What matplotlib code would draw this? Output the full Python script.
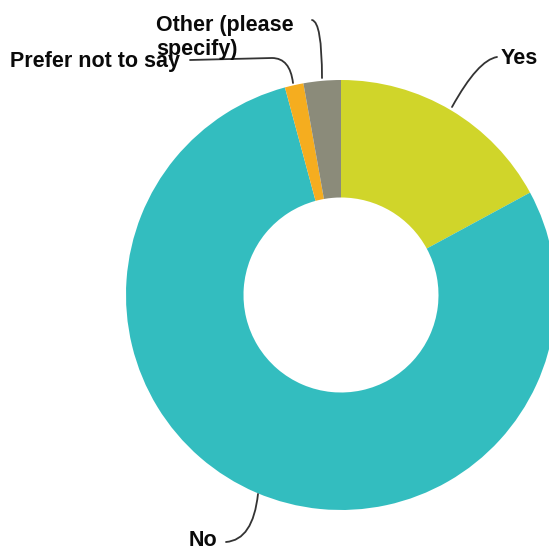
import matplotlib
matplotlib.use("Agg")
import matplotlib.pyplot as plt
from matplotlib.path import Path
from matplotlib.patches import PathPatch

categories = ["Yes", "No", "Prefer not to say", "Other (please\nspecify)"]
values = [17.1, 78.7, 1.4, 2.8]
colors = ["#D0D52A", "#33BDBF", "#F5AD1F", "#8B8B7A"]

W, H = 549, 551
fig = plt.figure(figsize=(W / 100, H / 100), dpi=100)
ax = fig.add_axes([0, 0, 1, 1])

def Y(py):
    return H - py

cx, cy, R, r = 341, 295, 215, 97.5
ax.pie(values, colors=colors, startangle=90, counterclock=False,
       center=(cx, Y(cy)), radius=R, frame=True,
       wedgeprops=dict(width=R - r, linewidth=0))
ax.set_xlim(0, W)
ax.set_ylim(0, H)
ax.set_aspect("equal")
ax.axis("off")

font = dict(family="Liberation Sans", fontweight="bold", fontsize=15.5, color="#0a0a0a")

def curve(pts):
    verts = [(x, Y(y)) for x, y in pts]
    codes = [Path.MOVETO] + [Path.CURVE3] * (len(verts) - 1)
    ax.add_patch(PathPatch(Path(verts, codes), fill=False, lw=1.3,
                           edgecolor="#333333", capstyle="round", zorder=1))

# leader lines
curve([(452, 107), (478, 60), (497, 57)])
curve([(258, 494), (253, 540), (226, 542)])
curve([(322, 78), (322, 22), (312, 20)])
curve([(293, 83), (290, 58), (272, 58), (231, 59), (190, 60)])

ax.text(501, Y(64), categories[0], ha="left", va="baseline", **font)
ax.text(189, Y(546), categories[1], ha="left", va="baseline", **font)
ax.text(10, Y(67), categories[2], ha="left", va="baseline", zorder=3, **font)
lines = categories[3].split("\n")
ax.text(156, Y(31), lines[0], ha="left", va="baseline", **font)
ax.text(156, Y(55), lines[1], ha="left", va="baseline", **font)

fig.savefig("out.png", dpi=100)
